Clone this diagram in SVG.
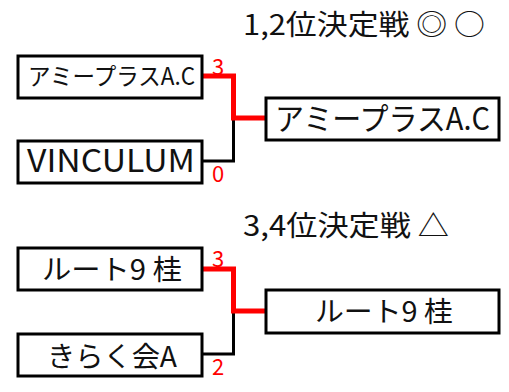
<svg xmlns="http://www.w3.org/2000/svg" width="509" height="392" viewBox="0 0 509 392">
<style>
.box{fill:#fff;stroke:#000;stroke-width:3}
.t{font-family:"Noto Sans CJK JP","Noto Sans",sans-serif;fill:#111}
.sc{font-family:"Noto Sans CJK JP","Noto Sans",sans-serif;fill:#f00;font-size:22px}
.win{fill:none;stroke:#f00;stroke-width:5}
.lose{fill:none;stroke:#000;stroke-width:3}
</style>
<rect width="509" height="392" fill="#fff"/>
<text class="t" x="243" y="35" font-size="28" textLength="242" lengthAdjust="spacingAndGlyphs">1,2位決定戦 ◎ ○</text>
<text class="t" x="243" y="236" font-size="28" textLength="206" lengthAdjust="spacingAndGlyphs">3,4位決定戦 △</text>
<g id="connectors">
<polyline class="lose" points="202,161 233.5,161 233.5,118"/>
<polyline class="win" points="202,76 233.5,76 233.5,118 266,118"/>
<polyline class="lose" points="202,354 233.5,354 233.5,311"/>
<polyline class="win" points="202,269 233.5,269 233.5,311 266,311"/>
</g>
<g id="n1"><rect class="box" x="18" y="56" width="184" height="42"/><text class="t" x="28" y="85" font-size="24" textLength="167" lengthAdjust="spacingAndGlyphs">アミープラスA.C</text></g>
<g id="n2"><rect class="box" x="18" y="141" width="184" height="42"/><text class="t" x="27" y="172" font-size="31" textLength="168" lengthAdjust="spacingAndGlyphs">VINCULUM</text></g>
<g id="n3"><rect class="box" x="266" y="98" width="233" height="42"/><text class="t" x="275" y="130" font-size="31" textLength="215" lengthAdjust="spacingAndGlyphs">アミープラスA.C</text></g>
<g id="n4"><rect class="box" x="18" y="248" width="184" height="42"/><text class="t" x="42" y="280" font-size="28" textLength="140" lengthAdjust="spacingAndGlyphs">ルート9 桂</text></g>
<g id="n5"><rect class="box" x="18" y="334" width="184" height="42"/><text class="t" x="47" y="367" font-size="28" textLength="130" lengthAdjust="spacingAndGlyphs">きらく会A</text></g>
<g id="n6"><rect class="box" x="266" y="290" width="233" height="43"/><text class="t" x="315" y="322" font-size="28" textLength="138" lengthAdjust="spacingAndGlyphs">ルート9 桂</text></g>
<text class="sc" x="212" y="75">3</text>
<text class="sc" x="212" y="182">0</text>
<text class="sc" x="212" y="267">3</text>
<text class="sc" x="212" y="375">2</text>
</svg>
